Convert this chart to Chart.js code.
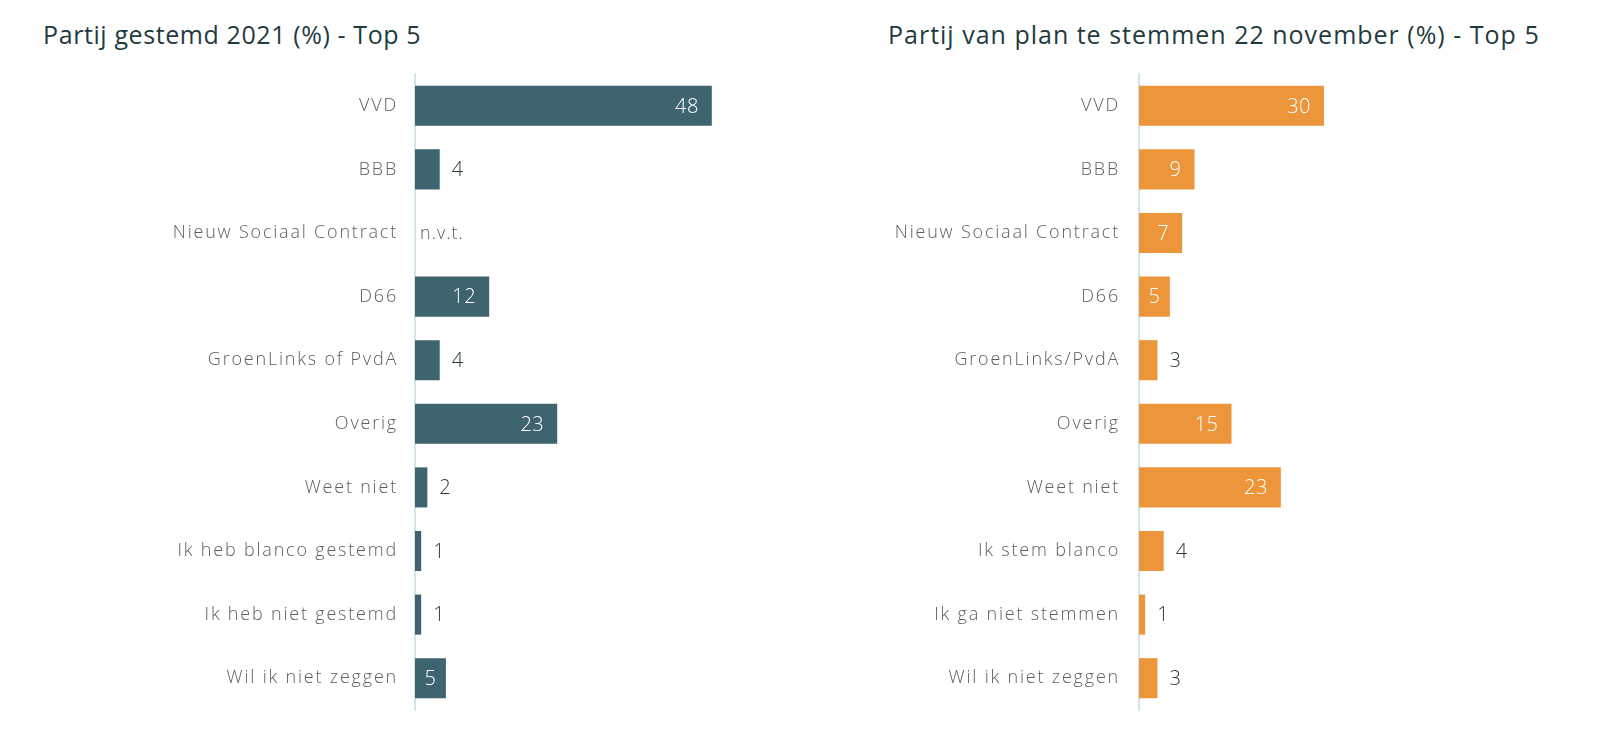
<!DOCTYPE html>
<html>
<head>
<meta charset="utf-8">
<script src="https://cdn.jsdelivr.net/npm/chart.js@4"></script>
<style>
  body { margin: 0; background: #fff; width: 1600px; height: 729px; position: relative; overflow: hidden; font-family: "Open Sans", sans-serif; }
  .title { position: absolute; top: 17px; margin: 0; font-size: 25px; font-weight: 500; letter-spacing: 0.6px; color: #1f3b40; white-space: nowrap; }
  .box { position: absolute; top: 0; width: 800px; height: 729px; }
</style>
</head>
<body>
<h2 class="title" style="left:43px">Partij gestemd 2021 (%) - Top 5</h2>
<h2 class="title" style="left:888px; letter-spacing:1px">Partij van plan te stemmen 22 november (%) - Top 5</h2>
<div class="box" style="left:0"><canvas id="left"></canvas></div>
<div class="box" style="left:800px"><canvas id="right"></canvas></div>
<script>
// categories
const labels2021 = ["VVD", "BBB", "Nieuw Sociaal Contract", "D66", "GroenLinks of PvdA", "Overig",
  "Weet niet", "Ik heb blanco gestemd", "Ik heb niet gestemd", "Wil ik niet zeggen"];
const labelsPlan = ["VVD", "BBB", "Nieuw Sociaal Contract", "D66", "GroenLinks/PvdA", "Overig",
  "Weet niet", "Ik stem blanco", "Ik ga niet stemmen", "Wil ik niet zeggen"];
// percentages (null = n.v.t.)
const values2021 = [48, 4, null, 12, 4, 23, 2, 1, 1, 5];
const valuesPlan = [30, 9, 7, 5, 3, 15, 23, 4, 1, 3];

const valueFont = '300 20px "Open Sans"';

//wider spacing for the axis labels, the original font is a wide geometric one
const spacing = {
  id: "spacing",
  beforeDraw(chart) {
    chart.ctx.letterSpacing = "1.8px";
  },
};

//draws the numbers next to / inside the bars
const valueLabels = {
  id: "valueLabels",
  afterDatasetsDraw(chart) {
    const ctx = chart.ctx;
    const xs = chart.scales.x;
    const ys = chart.scales.y;
    const x0 = xs.getPixelForValue(0);
    ctx.save();
    ctx.font = valueFont;
    ctx.letterSpacing = "0.5px";
    ctx.textBaseline = "middle";
    chart.data.datasets[0].data.forEach((v, i) => {
      const y = ys.getPixelForValue(i) + 1;
      if (v === null) {
        ctx.font = '300 18px "Open Sans"';
        ctx.letterSpacing = "1px";
        ctx.fillStyle = "#5b5f60";
        ctx.textAlign = "left";
        ctx.fillText("n.v.t.", x0 + 5, y);
        ctx.font = valueFont;
        ctx.letterSpacing = "0.5px";
        return;
      }
      const end = xs.getPixelForValue(v);
      const text = String(v);
      const w = ctx.measureText(text).width;
      if (v >= 5) {
        ctx.fillStyle = "#ffffff";
        ctx.textAlign = "center";
        ctx.fillText(text, Math.max(end - 13 - w / 2, (x0 + end) / 2), y);
      } else {
        ctx.fillStyle = "#2a3b3f";
        ctx.textAlign = "left";
        ctx.fillText(text, end + 12, y);
      }
    });
    ctx.restore();
  },
};

function makeChart(id, labels, values, color, axisWidth, tickPad, padRight) {
  return new Chart(document.getElementById(id), {
    type: "bar",
    plugins: [spacing, valueLabels],
    data: {
      labels: labels,
      datasets: [{
        data: values,
        backgroundColor: color,
        barPercentage: 0.63,
        categoryPercentage: 1,
      }],
    },
    options: {
      indexAxis: "y",
      responsive: true,
      maintainAspectRatio: false,
      animation: false,
      layout: { padding: { top: 74, bottom: 19, left: 0, right: padRight } },
      plugins: { legend: { display: false }, tooltip: { enabled: false } },
      scales: {
        x: { display: false, min: 0, max: 60 },
        y: {
          grid: { display: false, drawTicks: false },
          border: { display: true, color: "#d3e5ea", width: 2 },
          ticks: { padding: tickPad, color: "#5b5f60", font: { family: "Open Sans", size: 18, weight: 300 } },
          afterFit: (scale) => {
            scale.width = axisWidth;
            scale.paddingTop = 0;
            scale.paddingBottom = 0;
          },
        },
      },
    },
  });
}

makeChart("left", labels2021, values2021, "#3e6470", 415, 17, 14);
makeChart("right", labelsPlan, valuesPlan, "#ec953b", 339, 19, 91);
</script>
</body>
</html>
